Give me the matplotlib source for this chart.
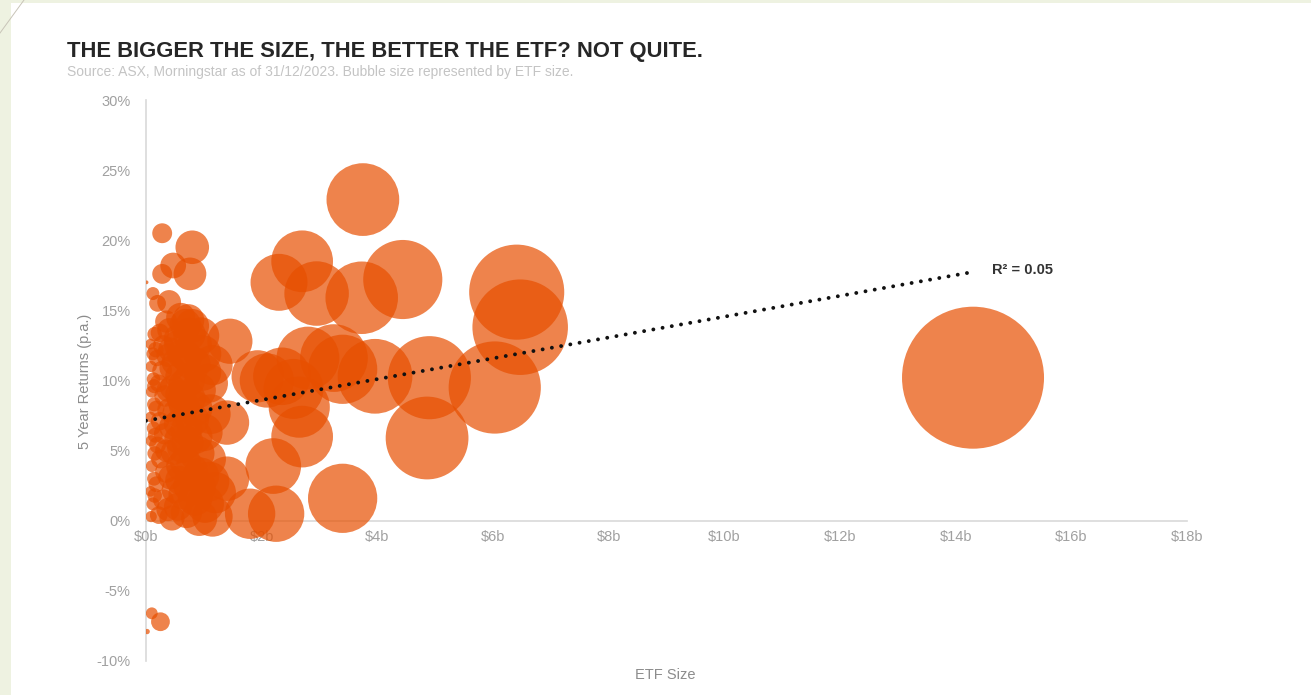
import matplotlib
matplotlib.use("Agg")
import matplotlib.pyplot as plt
from matplotlib.patches import Rectangle
from matplotlib.lines import Line2D

plt.rcParams['font.family'] = ['Liberation Sans', 'DejaVu Sans']

# ETF size ($b) and 5 year return (% p.a.)
big_size = [14.3, 6.41, 6.47, 6.03, 4.90, 4.86, 4.44, 3.75, 3.73, 3.96, 3.40, 3.25,
            3.40, 2.95, 2.70, 2.30, 2.80, 2.55, 2.09, 2.35, 2.70, 2.65, 2.20, 2.25,
            1.80, 1.93, 1.45, 1.15, 1.40, 1.40, 1.20, 1.15]
big_ret = [10.2, 16.3, 13.8, 9.5, 10.2, 5.9, 17.2, 22.9, 15.9, 10.3, 10.8, 11.6,
           1.6, 16.2, 18.5, 17.0, 11.6, 9.4, 10.0, 10.3, 6.0, 8.1, 3.9, 0.5,
           0.5, 10.3, 12.8, 11.1, 7.0, 3.0, 2.0, 0.3]

small_size = [0.80, 0.76, 0.47, 0.28, 0.28, 0.12, 0.20, 0.40, 0.73, 0.80,
              0.10, 0.25, 0.02, 0.01]
small_ret = [19.5, 17.6, 18.2, 20.5, 17.6, 16.2, 15.5, 15.6, 14.3, 13.9,
             -6.6, -7.2, -7.9, 17.0]

cluster_size = [0.09, 0.12, 0.08, 0.14, 0.10, 0.15, 0.09, 0.13, 0.08, 0.14, 0.10, 0.13,
                0.09, 0.12, 0.08, 0.15,
                0.22, 0.30, 0.18, 0.35, 0.25, 0.20, 0.32, 0.24, 0.18, 0.33, 0.22, 0.28,
                0.19, 0.30, 0.24, 0.35,
                0.45, 0.55, 0.50, 0.42, 0.60, 0.48, 0.56, 0.44, 0.52, 0.62, 0.46, 0.58,
                0.50, 0.42, 0.55, 0.60,
                0.70, 0.85, 0.75, 0.95, 0.68, 0.88, 0.72, 0.80, 0.66, 0.90, 0.74, 0.98,
                0.70, 0.84,
                1.02, 1.05, 1.00, 1.08, 0.95, 0.92,
                0.38, 0.65, 0.78, 0.58, 0.90, 0.35, 0.62, 0.85, 0.55, 0.70, 0.40, 0.75,
                0.58, 0.85, 0.38, 0.65, 0.45, 0.82, 0.62, 0.38, 0.55, 0.75, 0.40, 0.68,
                1.10, 1.12, 0.98, 0.15, 0.16, 0.14, 0.17]
cluster_ret = [0.3, 1.2, 2.1, 3.0, 3.9, 4.8, 5.7, 6.6, 7.4, 8.3, 9.2, 10.1,
               11.0, 11.9, 12.6, 13.3,
               0.4, 1.5, 2.6, 3.5, 4.4, 5.4, 6.2, 7.1, 8.0, 8.9, 9.8, 10.7,
               11.6, 12.5, 13.4, 14.2,
               0.2, 1.0, 2.2, 3.1, 3.9, 4.9, 5.8, 6.7, 7.7, 8.6, 9.5, 10.3,
               11.3, 12.2, 13.0, 14.5,
               0.6, 1.6, 2.5, 3.2, 4.2, 4.8, 5.6, 7.2, 8.2, 9.3, 10.0, 10.6,
               11.7, 12.6,
               1.2, 4.4, 6.3, 9.8, 13.2, 0.2,
               0.8, 1.9, 3.6, 2.9, 2.4, 5.0, 5.2, 6.0, 6.9, 6.5, 7.9, 8.7,
               9.0, 8.0, 9.3, 9.7, 10.9, 11.2, 11.9, 11.8, 12.6, 13.3, 13.6, 14.0,
               2.8, 7.6, 11.9, 1.8, 6.1, 9.6, 12.2]

etf_size = big_size + small_size + cluster_size
returns = big_ret + small_ret + cluster_ret

# linear trendline as shown on the chart
trend_intercept = 7.13
trend_slope = 0.742
trend_x = [0, 14.33]
r2_text = "R\u00b2 = 0.05"

x_ticks = [0, 2, 4, 6, 8, 10, 12, 14, 16, 18]
x_labels = ["$%db" % v for v in x_ticks]
y_ticks = [-10, -5, 0, 5, 10, 15, 20, 25, 30]
y_labels = ["%d%%" % v for v in y_ticks]

W, H = 1311, 695
fig = plt.figure(figsize=(W / 100, H / 100), dpi=100)
fig.patch.set_facecolor('#EEF2E1')
fig.add_artist(Rectangle((11 / W, 0), 1, 692 / H, transform=fig.transFigure,
                         facecolor='white', edgecolor='none', zorder=0))
fig.add_artist(Line2D([0, 24 / W], [1 - 33 / H, 1], transform=fig.transFigure,
                      color='#C8C4B8', lw=0.7))

ax = fig.add_axes([146 / W, 34 / H, (1187 - 146) / W, (661 - 100) / H])
ax.set_facecolor('none')
ax.set_xlim(0, 18)
ax.set_ylim(-10, 30)

bubble_scale = 731
ax.scatter(etf_size, returns, s=[bubble_scale * v for v in etf_size],
           color='#E74F00', alpha=0.70, linewidths=0, zorder=2)

ax.plot(trend_x, [trend_intercept + trend_slope * v for v in trend_x],
        color='#111111', lw=2.8, linestyle=(0, (0.01, 2.4)),
        dash_capstyle='round', zorder=3)
ax.text(14.33 + 0.3, trend_intercept + trend_slope * 14.33 + 0.1, r2_text,
        fontsize=10.5, fontweight='bold', color='#333333', va='center', ha='left')

for side in ['top', 'right']:
    ax.spines[side].set_visible(False)
ax.spines['bottom'].set_position(('data', 0))
ax.spines['left'].set_position(('data', 0))
for side in ['bottom', 'left']:
    ax.spines[side].set_color('#D9D9D9')
    ax.spines[side].set_linewidth(1.2)
    ax.spines[side].set_zorder(1)

ax.set_xticks(x_ticks)
ax.set_xticklabels(x_labels)
ax.set_yticks(y_ticks)
ax.set_yticklabels(y_labels)
ax.tick_params(axis='x', length=0, pad=7, labelsize=10.5, labelcolor='#A0A0A0')
ax.tick_params(axis='y', length=0, pad=11, labelsize=10.5, labelcolor='#A0A0A0')

fig.text(85 / W, 1 - 381 / H, "5 Year Returns (p.a.)", rotation=90,
         ha='center', va='center', fontsize=10.5, color='#8C8C8C')
fig.text(665 / W, 1 - 675 / H, "ETF Size", ha='center', va='center',
         fontsize=10.5, color='#8C8C8C')

fig.text(67 / W, 1 - 52 / H, "THE BIGGER THE SIZE, THE BETTER THE ETF? NOT QUITE.",
         fontsize=15.8, fontweight='bold', color='#262626', va='center', ha='left')
fig.text(67 / W, 1 - 72 / H,
         "Source: ASX, Morningstar as of 31/12/2023. Bubble size represented by ETF size.",
         fontsize=10, color='#C4C4C4', va='center', ha='left')

fig.savefig("out.png", dpi=100, facecolor=fig.get_facecolor())
